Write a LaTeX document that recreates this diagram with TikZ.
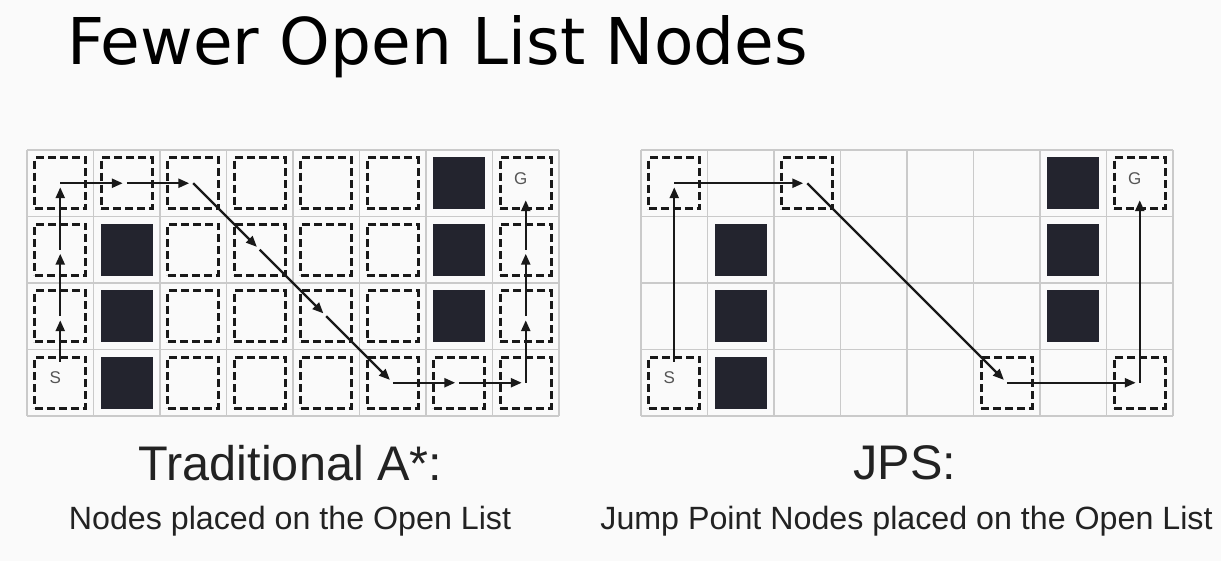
\documentclass[tikz,border=0pt]{standalone}
\usepackage{fontspec}
\setmainfont{Liberation Sans}
\newfontfamily\titlefont{DejaVu Sans}
\usetikzlibrary{arrows.meta}
\usetikzlibrary{calc}

\definecolor{bgcol}{HTML}{FAFAFA}
\definecolor{gridgray}{HTML}{CACACA}
\definecolor{wallcol}{HTML}{23242E}
\definecolor{capcol}{HTML}{222222}
\definecolor{tagcol}{HTML}{555555}

\def\cell{66.5}
\tikzstyle{cellline}=[draw=gridgray, line width=1.5pt]
\tikzstyle{openbox}=[rectangle, draw=black!90, line width=3pt, dash pattern=on 8pt off 4pt, minimum size=51pt, inner sep=0pt]
\tikzstyle{wall}=[rectangle, fill=wallcol, minimum size=52pt, inner sep=0pt]
\tikzstyle{tag}=[text=tagcol, font=\fontsize{17}{17}\selectfont, inner sep=0pt]
\tikzset{route/.style={draw=black!90, line width=2.4pt, -{Triangle[length=11pt,width=9pt]}, shorten >=#1},
  route/.default=4pt}
\tikzstyle{titletext}=[font=\titlefont\fontsize{64.5}{70}\selectfont, inner sep=0pt]
\tikzstyle{headtext}=[text=capcol, font=\fontsize{48.6}{52}\selectfont, inner sep=0pt]
\tikzstyle{subtext}=[text=capcol, font=\fontsize{32.2}{36}\selectfont, inner sep=0pt]

\begin{document}
\begin{tikzpicture}[x=1pt, y=1pt]
\fill[bgcol] (0,0) rectangle (1221,561);
\useasboundingbox (0,0) rectangle (1221,561);

\node[titletext, anchor=base west] (title) at (67,496) {Fewer Open List Nodes};

% the two grids: l = traditional A*, r = JPS
\foreach \g/\ox in {l/27, r/641} {
  \begin{scope}[shift={(\ox,145)}]
    \foreach \c in {0,...,8}
      \draw[cellline] (\c*\cell,0) -- (\c*\cell,4*\cell);
    \foreach \r in {0,...,4}
      \draw[cellline] (0,\r*\cell) -- (8*\cell,\r*\cell);
    \foreach \c in {0,...,7}
      \foreach \r in {0,...,3}
        \coordinate (\g-\c-\r) at ({(\c+0.5)*\cell},{(3.5-\r)*\cell});
  \end{scope}
  \foreach \c/\r in {1/1, 1/2, 1/3, 6/0, 6/1, 6/2}
    \node[wall] (\g wall-\c-\r) at (\g-\c-\r) {};
  \node[tag] (\g-s) at ($(\g-0-3)+(-5,5)$) {S};
  \node[tag] (\g-g) at ($(\g-7-0)+(-5,5)$) {G};
  \coordinate (\g-start) at ($(\g-0-3)+(0,21)$);
}

% open list, A*
\foreach \c in {0,2,3,4,5,7}
  \foreach \r in {0,...,3}
    \node[openbox] (lbox-\c-\r) at (l-\c-\r) {};
\node[openbox] (lbox-1-0) at (l-1-0) {};
\node[openbox] (lbox-6-3) at (l-6-3) {};

% open list, JPS
\foreach \c/\r in {0/0, 2/0, 0/3, 5/3, 7/3, 7/0}
  \node[openbox] (rbox-\c-\r) at (r-\c-\r) {};

% paths
\foreach \a/\b in {l-start/l-0-2, l-0-2/l-0-1, l-0-1/l-0-0, l-0-0/l-1-0, l-1-0/l-2-0,
    l-2-0/l-3-1, l-3-1/l-4-2, l-4-2/l-5-3, l-5-3/l-6-3, l-6-3/l-7-3, l-7-3/l-7-2, l-7-2/l-7-1}
  \draw[route] (\a) -- (\b);
\draw[route=17pt] (l-7-1) -- (l-7-0);

\foreach \a/\b in {r-start/r-0-0, r-0-0/r-2-0, r-2-0/r-5-3, r-5-3/r-7-3}
  \draw[route] (\a) -- (\b);
\draw[route=17pt] (r-7-3) -- (r-7-0);

\node[headtext, anchor=base] (astar-head) at (290.5,80) {Traditional A*:};
\node[subtext, anchor=base] (astar-sub) at (290,31) {Nodes placed on the Open List};
\node[headtext, anchor=base] (jps-head) at (905,81) {JPS:};
\node[subtext, anchor=base] (jps-sub) at (906.5,31) {Jump Point Nodes placed on the Open List};
\end{tikzpicture}
\end{document}
